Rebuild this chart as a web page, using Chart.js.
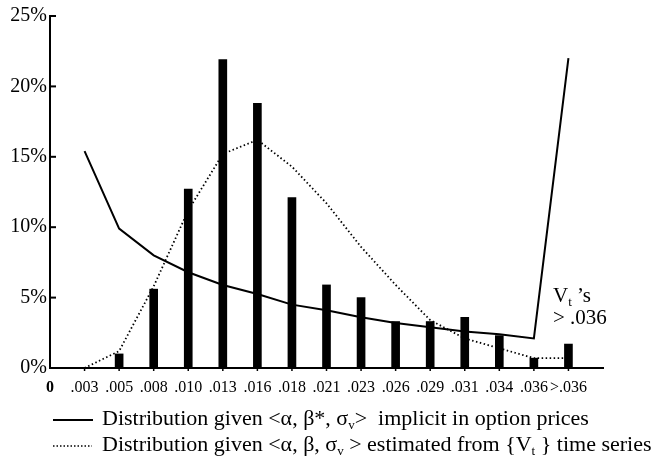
<!DOCTYPE html>
<html>
<head>
<meta charset="utf-8">
<script src="https://cdn.jsdelivr.net/npm/chart.js@4.4.0/dist/chart.umd.min.js"></script>
<style>
  body { margin: 0; background: #fff; }
</style>
</head>
<body>
<canvas id="myChart" width="655" height="462"></canvas>
<script>
// category labels along the bottom (bin upper bounds of V_t)
const xLabels = ['0', '.003', '.005', '.008', '.010', '.013', '.016', '.018',
                 '.021', '.023', '.026', '.029', '.031', '.034', '.036', '>.036']

// histogram of V_t (percent), one value per label, null = no bar
const observed = [null, null, 1.0, 5.6, 12.7, 21.9, 18.8, 12.1,
                  5.9, 5.0, 3.3, 3.3, 3.6, 2.3, 0.7, 1.7]

// distribution implicit in option prices (solid)
const implied = [null, 15.4, 9.9, 8.0, 6.8, 5.9, 5.25, 4.5,
                 4.1, 3.6, 3.2, 2.9, 2.6, 2.4, 2.1, 22.0]

// distribution estimated from the time series (dotted)
const estimated = [null, 0, 1.2, 5.8, 11.2, 15.2, 16.2, 14.3,
                   11.7, 8.6, 5.9, 3.4, 2.1, 1.4, 0.7, 0.7]

const yTicks = [0, 5, 10, 15, 20, 25]

const serif = 'Liberation Serif'

function toPoints(values) {
  let pts = []
  for (let i = 0; i < values.length; i++) {
    if (values[i] !== null) pts.push({x: i, y: values[i]})
  }
  return pts
}

// draws a run of text pieces, ['v', 'sub'] pieces get lowered and shrunk
function drawRuns(ctx, x, y, runs, size) {
  for (const run of runs) {
    const sub = run[1] === 'sub'
    ctx.font = (sub ? Math.round(size * 0.6) : size) + 'px "' + serif + '"'
    ctx.fillText(run[0], x, sub ? y + size * 0.2 : y)
    x += ctx.measureText(run[0]).width
  }
}

const extras = {
  id: 'extras',
  afterDraw(chart) {
    const ctx = chart.ctx
    const xs = chart.scales.x
    const ys = chart.scales.y
    const area = chart.chartArea
    ctx.save()
    ctx.strokeStyle = '#000'
    ctx.fillStyle = '#000'
    ctx.lineWidth = 2

    // inward ticks on the y axis
    for (const v of yTicks) {
      const py = ys.getPixelForValue(v)
      ctx.beginPath()
      ctx.moveTo(area.left, py)
      ctx.lineTo(area.left + 6, py)
      ctx.stroke()
    }
    // little ticks under the x axis
    ctx.lineWidth = 1.5
    for (let i = 1; i < xLabels.length; i++) {
      const px = xs.getPixelForValue(i)
      ctx.beginPath()
      ctx.moveTo(px, area.bottom)
      ctx.lineTo(px, area.bottom + 3)
      ctx.stroke()
    }

    // note next to the last bin
    ctx.textBaseline = 'alphabetic'
    ctx.textAlign = 'left'
    drawRuns(ctx, 553, 302, [['V'], ['t', 'sub'], [' \u2019s']], 21)
    drawRuns(ctx, 553, 324, [['> .036']], 21)

    // legend
    ctx.lineWidth = 2
    ctx.beginPath()
    ctx.moveTo(53, 420)
    ctx.lineTo(93, 420)
    ctx.stroke()
    drawRuns(ctx, 102, 425, [
      ['Distribution given <\u03b1, \u03b2*, \u03c3'], ['v', 'sub'],
      ['>  implicit in option prices']
    ], 22)

    ctx.lineWidth = 1.5
    ctx.setLineDash([1.5, 2])
    ctx.beginPath()
    ctx.moveTo(53, 446)
    ctx.lineTo(92, 446)
    ctx.stroke()
    ctx.setLineDash([])
    drawRuns(ctx, 102, 451, [
      ['Distribution given <\u03b1, \u03b2, \u03c3'], ['v', 'sub'],
      [' > estimated from {V'], ['t', 'sub'], [' } time series']
    ], 22)
    ctx.restore()
  }
}

const ctx = document.getElementById('myChart').getContext('2d')
const myChart = new Chart(ctx, {
  type: 'bar',
  data: {
    datasets: [
      {
        type: 'line',
        data: toPoints(implied),
        borderColor: '#000',
        borderWidth: 2,
        pointRadius: 0,
        tension: 0
      },
      {
        type: 'line',
        data: toPoints(estimated),
        borderColor: '#000',
        borderWidth: 1.8,
        borderDash: [1.5, 2.5],
        pointRadius: 0,
        tension: 0
      },
      {
        type: 'bar',
        data: toPoints(observed),
        backgroundColor: '#000',
        barThickness: 8
      }
    ]
  },
  options: {
    responsive: false,
    animation: false,
    layout: {
      padding: {top: 16, right: 52, bottom: 0, left: 0}
    },
    plugins: {
      legend: {display: false},
      tooltip: {enabled: false}
    },
    scales: {
      x: {
        type: 'linear',
        offset: false,
        min: 0,
        max: 16,
        grid: {display: false, drawTicks: false, offset: false},
        border: {display: true, color: '#000', width: 2},
        afterBuildTicks: (scale) => {
          scale.ticks = xLabels.map((_, i) => ({value: i}))
        },
        afterFit: (scale) => { scale.height = 94 },
        ticks: {
          autoSkip: false,
          maxRotation: 0,
          padding: 10,
          color: '#000',
          font: (c) => ({family: serif, size: 16, weight: c.index === 0 ? 'bold' : 'normal'}),
          callback: (v) => xLabels[v]
        }
      },
      y: {
        min: 0,
        max: 25,
        grid: {display: false, drawTicks: false},
        border: {display: true, color: '#000', width: 2},
        afterBuildTicks: (scale) => {
          scale.ticks = yTicks.map((v) => ({value: v}))
        },
        afterFit: (scale) => { scale.width = 50 },
        ticks: {
          padding: 3,
          color: '#000',
          font: {family: serif, size: 20},
          callback: (v) => v + '%'
        }
      }
    }
  },
  plugins: [extras]
})
</script>
</body>
</html>
